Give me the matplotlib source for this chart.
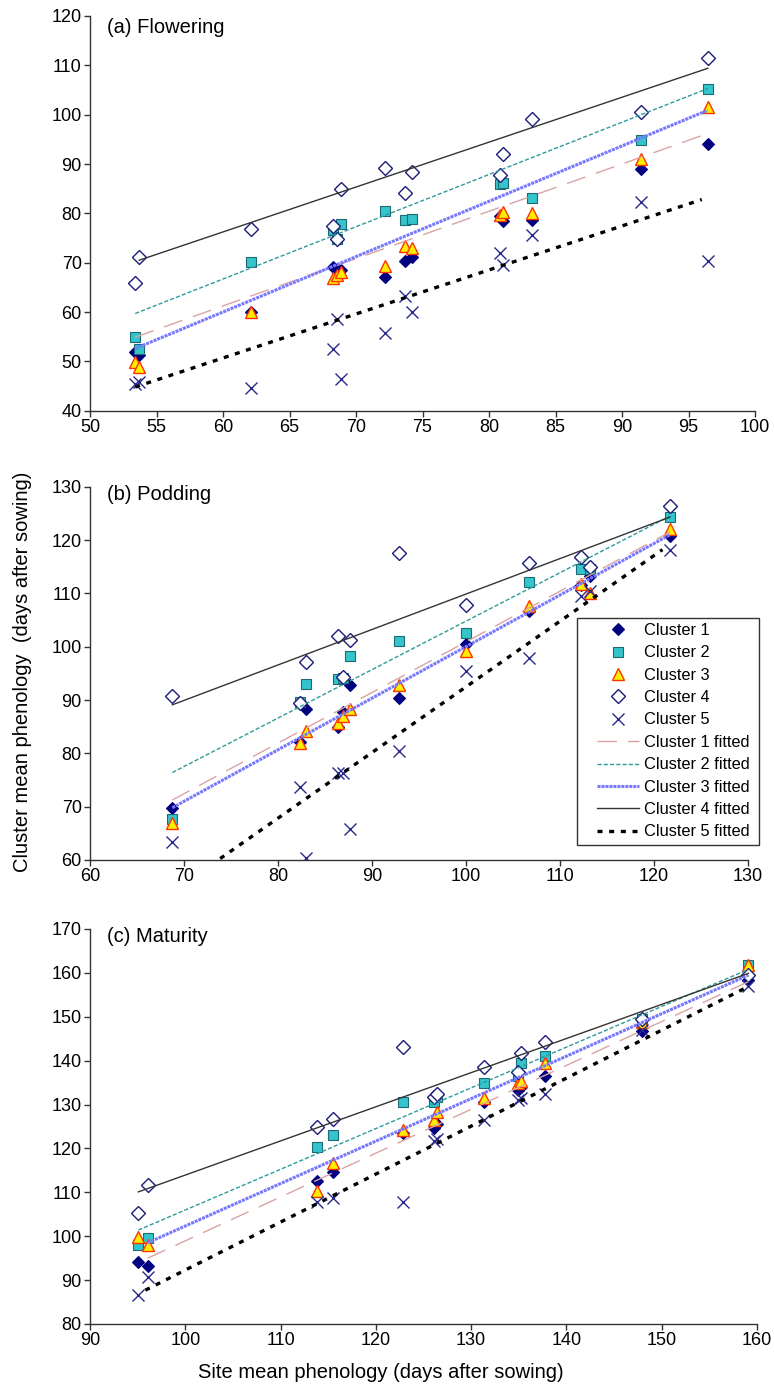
import matplotlib
matplotlib.use("Agg")
import matplotlib.pyplot as plt
from matplotlib.patches import Rectangle

plt.rcParams['font.family'] = ['Liberation Sans', 'DejaVu Sans']

# ---- DATA ----
names = ["Cluster 1", "Cluster 2", "Cluster 3", "Cluster 4", "Cluster 5"]

# (a) Flowering
site_a = [53.4, 53.7, 62.1, 68.3, 68.6, 68.9, 72.2, 73.7, 74.2, 80.8, 81.05, 83.2, 91.4, 96.45]
c1_a = [51.8, 51.3, 60.1, 69.1, 68.8, 68.5, 67.2, 70.4, 71.2, 79.5, 78.5, 78.6, 88.9, 94.1]
c2_a = [55.0, 52.6, 70.2, 76.6, 74.9, 77.8, 80.5, 78.6, 78.8, 85.9, 86.1, 83.2, 94.9, 105.3]
c3_a = [49.9, 48.9, 60.1, 66.8, 67.5, 68.2, 69.3, 73.4, 72.9, 79.7, 80.3, 80.0, 91.1, 101.6]
c4_a = [65.8, 71.1, 76.8, 77.4, 74.9, 84.9, 89.1, 84.05, 88.4, 87.8, 92.0, 99.1, 100.6, 111.4]
c5_a = [45.4, 45.9, 44.5, 52.6, 58.5, 46.4, 55.7, 63.2, 60.1, 71.9, 69.5, 75.7, 82.4, 70.4]
fitx_a = [[53.4, 96.45], [53.4, 96.45], [53.4, 96.45], [53.7, 96.45], [53.4, 96.0]]
fity_a = [[54.9, 96.2], [59.7, 105.3], [52.6, 100.9], [70.5, 109.4], [44.8, 82.8]]

# (b) Podding
site_b = [68.76, 82.3, 82.98, 86.4, 86.95, 87.7, 92.9, 99.96, 106.7, 112.26, 113.2, 121.7]
c1_b = [69.8, 82.2, 88.4, 84.9, 87.8, 92.8, 90.3, 100.5, 106.6, 111.6, 113.3, 120.7]
c2_b = [67.7, 89.7, 93.0, 93.9, 94.1, 98.25, 101.1, 102.5, 112.2, 114.6, 114.5, 124.4]
c3_b = [67.0, 81.9, 84.1, 85.75, 87.0, 88.25, 92.8, 99.1, 107.7, 111.8, 110.0, 122.0]
c4_b = [90.75, 89.5, 97.2, 102.0, 94.4, 101.2, 117.6, 107.8, 115.75, 116.9, 114.9, 126.3]
c5_b = [63.4, 73.75, 60.3, 76.25, 76.4, 65.75, 80.4, 95.5, 97.8, 109.5, 110.5, 118.2]
fitx_b = [[68.76, 121.7], [68.76, 121.7], [68.76, 121.7], [68.76, 121.7], [68.76, 120.9]]
fity_b = [[71.25, 121.5], [76.4, 124.5], [69.8, 121.0], [89.1, 124.3], [54.0, 118.2]]

# (c) Maturity
site_c = [95.07, 96.05, 113.85, 115.45, 122.8, 126.1, 126.4, 131.3, 134.9, 135.2, 137.7, 147.9, 159.1]
c1_c = [94.2, 93.2, 112.65, 114.7, 123.6, 124.6, 125.5, 130.6, 133.4, 134.0, 136.5, 146.7, 158.4]
c2_c = [98.0, 99.5, 120.4, 123.05, 130.6, 130.6, 131.8, 135.0, 136.4, 139.4, 141.0, 149.6, 161.8]
c3_c = [99.9, 98.0, 110.4, 116.75, 124.2, 126.5, 128.4, 131.4, 134.8, 135.4, 139.4, 148.9, 161.8]
c4_c = [105.4, 111.7, 124.8, 126.6, 143.2, 131.8, 132.5, 138.6, 137.4, 141.8, 144.3, 149.6, 159.5]
c5_c = [86.6, 90.8, 107.9, 108.8, 107.9, 121.7, 122.1, 126.5, 131.0, 131.4, 132.5, 147.0, 157.0]
fitx_c = [[96.05, 159.1], [95.07, 159.1], [96.05, 159.1], [95.07, 159.1], [95.8, 159.1]]
fity_c = [[95.0, 158.0], [101.4, 160.8], [98.5, 159.5], [110.1, 159.9], [87.7, 156.9]]

# ---- STYLES ----
marker_styles = [
    dict(marker='D', ms=6.5, mfc='#000080', mec='#000080', mew=0.8),
    dict(marker='s', ms=7.5, mfc='#33c4cc', mec='#1d6a72', mew=0.8),
    dict(marker='^', ms=9, mfc='#ffee00', mec='#ff3300', mew=1.0),
    dict(marker='D', ms=7, mfc='white', mec='#1c1c7a', mew=1.0),
    dict(marker='x', ms=9, mfc='none', mec='#2a2a8a', mew=1.0),
]
line_styles = [
    dict(color='#d9a3a3', lw=1.0, ls=(0, (14, 8))),
    dict(color='#2e9a9a', lw=1.0, ls=(0, (3, 1.5))),
    dict(color='#7878ff', lw=2.2, ls=(0, (1, 0.3))),
    dict(color='#333333', lw=1.0, ls='-'),
    dict(color='black', lw=2.4, ls=(0, (1.5, 2))),
]

W, H = 774, 1391


def rect(l, r, t, b):
    return [l / W, 1 - b / H, (r - l) / W, (b - t) / H]


fig = plt.figure(figsize=(W / 100, H / 100), dpi=100)

panels = [
    ("(a) Flowering", rect(90, 755, 16, 410.7), (50, 100), range(50, 101, 5), (40, 120), range(40, 121, 10),
     site_a, [c1_a, c2_a, c3_a, c4_a, c5_a], fitx_a, fity_a, 0.972),
    ("(b) Podding", rect(90, 748, 486.7, 860), (60, 130), range(60, 131, 10), (60, 130), range(60, 131, 10),
     site_b, [c1_b, c2_b, c3_b, c4_b, c5_b], fitx_b, fity_b, 0.978),
    ("(c) Maturity", rect(90, 757, 929, 1324), (90, 160), range(90, 161, 10), (80, 170), range(80, 171, 10),
     site_c, [c1_c, c2_c, c3_c, c4_c, c5_c], fitx_c, fity_c, 0.982),
]

legend_handles = []
for i, (title, pos, xl, xt, yl, yt, sx, ys, fx, fy, ty) in enumerate(panels):
    ax = fig.add_axes(pos)
    mk = []
    for y, st, nm in zip(ys, marker_styles, names):
        h, = ax.plot(sx, y, ls='none', zorder=2, label=nm, **st)
        mk.append(h)
    ln = []
    for x, y, st, nm in zip(fx, fy, line_styles, names):
        h, = ax.plot(x, y, zorder=3, label=nm + " fitted", **st)
        ln.append(h)
    if i == 1:
        legend_handles = mk + ln

    ax.set_xlim(*xl)
    ax.set_ylim(*yl)
    ax.set_xticks(list(xt))
    ax.set_yticks(list(yt))
    for s in ['top', 'right']:
        ax.spines[s].set_visible(False)
    for s in ['left', 'bottom']:
        ax.spines[s].set_color('#333333')
        ax.spines[s].set_linewidth(1.0)
    ax.tick_params(direction='out', length=4, width=1, color='#333333', labelsize=13, pad=2)
    ax.text(17 / 665, ty, title, transform=ax.transAxes, fontsize=14.5, va='center', ha='left')

# legend frame drawn separately so the inner padding can match the original
fig.patches.append(Rectangle((577 / W, 1 - 845 / H), 182 / W, 227 / H, transform=fig.transFigure,
                             fill=True, facecolor='white', edgecolor='#333333', lw=1.0, zorder=5))
leg = fig.legend(legend_handles, [h.get_label() for h in legend_handles],
                 loc='upper left', bbox_to_anchor=(597 / W, 1 - 623 / H), bbox_transform=fig.transFigure,
                 frameon=False, borderaxespad=0, borderpad=0,
                 fontsize=11.8, handlelength=2.55, handletextpad=0.3, labelspacing=0.45)
leg.set_zorder(6)

fig.text(23 / W, 1 - 672 / H, "Cluster mean phenology  (days after sowing)", rotation=90,
         ha='center', va='center', fontsize=14.5)
fig.text(381 / W, 1 - 1372 / H, "Site mean phenology (days after sowing)",
         ha='center', va='center', fontsize=14.5)

fig.savefig("out.png", dpi=100)
